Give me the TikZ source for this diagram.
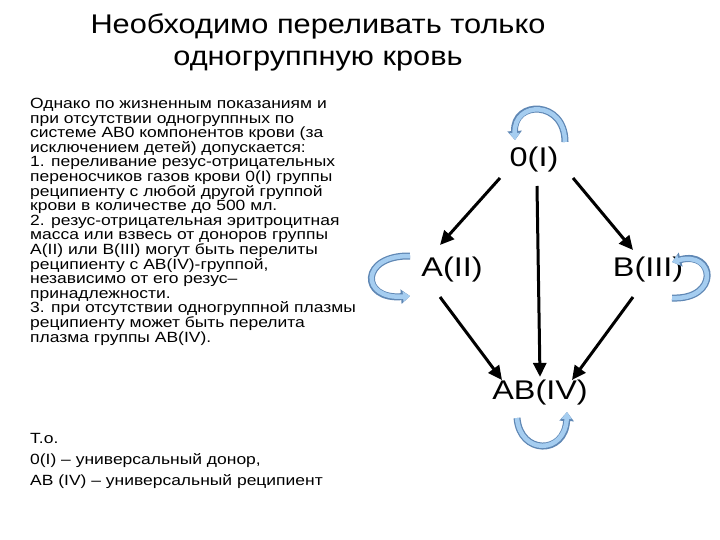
\documentclass[tikz,border=0pt]{standalone}
\usepackage{fontspec}
\setmainfont{Liberation Sans}
\newfontfamily\widef[FakeStretch=1.18]{Liberation Sans}
\newfontfamily\grpf[FakeStretch=1.2]{Liberation Sans}
\newfontfamily\titlef[FakeStretch=1.14]{Liberation Sans}
\usetikzlibrary{arrows.meta}
\definecolor{loopdark}{RGB}{95,135,180}
\definecolor{looplight}{RGB}{165,205,240}
\begin{document}
\begin{tikzpicture}[x=1pt,y=-1pt,
  grp/.style={font=\grpf\fontsize{27}{30}\selectfont},
  arr/.style={line width=3pt,-{Triangle[length=14pt,width=13pt]}},
  loopa/.style={draw=loopdark,line width=7pt,-{Triangle[length=9pt,width=14pt]}},
  loopb/.style={draw=looplight,line width=4.5pt,-{Triangle[length=7pt,width=10pt]}}]
\useasboundingbox (0,0) rectangle (720,540);
\node[font=\titlef\fontsize{27}{32}\selectfont,align=center] (title) at (318,42) {Необходимо переливать только\\одногруппную кровь};
\node[anchor=north west,align=left,inner sep=0pt,font=\widef\fontsize{14.8}{14.6}\selectfont] (txt) at (30,98) {Однако по жизненным показаниям и\\
при отсутствии одногруппных по\\
системе АВ0 компонентов крови (за\\
исключением детей) допускается:\\
1. переливание резус-отрицательных\\
переносчиков газов крови 0(I) группы\\
реципиенту с любой другой группой\\
крови в количестве до 500 мл.\\
2. резус-отрицательная эритроцитная\\
масса или взвесь от доноров группы\\
А(II) или В(III) могут быть перелиты\\
реципиенту с АВ(IV)-группой,\\
независимо от его резус–\\
принадлежности.\\
3. при отсутствии одногруппной плазмы\\
реципиенту может быть перелита\\
плазма группы АВ(IV).};
\node[anchor=north west,align=left,inner sep=0pt,font=\widef\fontsize{14.8}{21}\selectfont] (to) at (30,433) {Т.о.\\
0(I) – универсальный донор,\\
АВ (IV) – универсальный реципиент};
\node[grp] (o) at (534,160) {0(I)};
\node[grp] (a) at (452,270) {A(II)};
\node[grp] (b) at (648,270) {B(III)};
\node[grp] (ab) at (540,393) {AB(IV)};
\draw[arr] (500,178) -- (440,245);
\draw[arr] (537,186) -- (ab.north);
\draw[arr] (573,178) -- (633,250);
\draw[arr] (440,297) -- (502,380);
\draw[arr] (633,297) -- (572,380);
\foreach \s in {loopa,loopb}{
\draw[\s] (565,142) .. controls (565,100) and (513,100) .. (515,140);
\draw[\s] (410,256) .. controls (360,255) and (360,300) .. (410,296);
\draw[\s] (672,298) .. controls (720,300) and (715,250) .. (672,262);
\draw[\s] (517,418) .. controls (520,455) and (565,455) .. (567,412);
}
\end{tikzpicture}
\end{document}
